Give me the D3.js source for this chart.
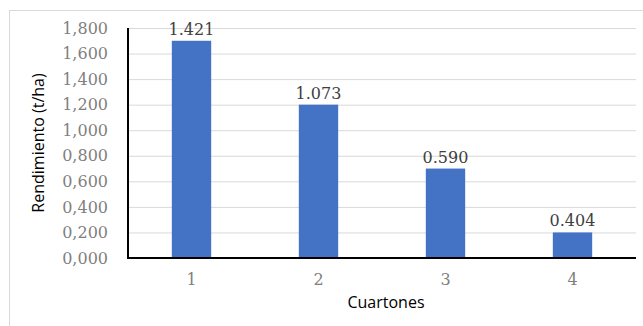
<!DOCTYPE html>
<html>
<head>
<meta charset="utf-8">
<script src="https://cdn.jsdelivr.net/npm/d3@7"></script>
<style>
  html, body { margin: 0; padding: 0; background: #fff; }
  svg { display: block; }
</style>
</head>
<body>
<script>
// Data
const categories = ["1", "2", "3", "4"];
const barValues = [1.7, 1.2, 0.7, 0.2];          // bar heights as drawn
const dataLabels = ["1.421", "1.073", "0.590", "0.404"]; // labels printed above bars
const yTicks = [0, 0.2, 0.4, 0.6, 0.8, 1.0, 1.2, 1.4, 1.6, 1.8];
const xTitle = "Cuartones";
const yTitle = "Rendimiento (t/ha)";

const W = 643, H = 326;
const plot = { left: 128, right: 636, top: 28, bottom: 258 };

const svg = d3.select("body").append("svg")
  .attr("width", W).attr("height", H);

// outer chart border
svg.append("rect")
  .attr("x", 9.5).attr("y", 10.5)
  .attr("width", W + 10).attr("height", H + 10)
  .attr("fill", "#fff").attr("stroke", "#d9d9d9").attr("stroke-width", 1);

const x = d3.scaleBand().domain(categories)
  .range([plot.left, plot.right])
  .paddingInner(0.69).paddingOuter(0.345);

const y = d3.scaleLinear().domain([0, 1.8]).range([plot.bottom, plot.top]);

const fmt = v => d3.format(".3f")(v).replace(".", ",").replace(/^(\d),/, "$1,");
const tickFmt = v => {
  const s = d3.format(".3f")(v);       // e.g. 1.800
  return s.replace(".", ",");          // 1,800
};

// gridlines
const yAxisGrid = d3.axisLeft(y).tickValues(yTicks)
  .tickSize(-(plot.right - plot.left)).tickFormat("");
svg.append("g")
  .attr("transform", `translate(${plot.left},0)`)
  .call(yAxisGrid)
  .call(g => g.select(".domain").remove())
  .call(g => g.selectAll("line").attr("stroke", "#d9d9d9").attr("stroke-width", 1));

// y tick labels
const yAxis = d3.axisLeft(y).tickValues(yTicks).tickSize(0).tickPadding(20)
  .tickFormat(tickFmt);
svg.append("g")
  .attr("transform", `translate(${plot.left},0)`)
  .call(yAxis)
  .call(g => g.select(".domain").remove())
  .call(g => g.selectAll("text")
    .attr("font-family", "DejaVu Serif")
    .attr("font-size", 16)
    .attr("fill", "#7f7f7f"));

// bars
svg.append("g").selectAll("rect").data(barValues).join("rect")
  .attr("x", (d, i) => x(categories[i]))
  .attr("y", d => y(d))
  .attr("width", x.bandwidth())
  .attr("height", d => y(0) - y(d))
  .attr("fill", "#4472c4");

// data labels
svg.append("g").selectAll("text").data(barValues).join("text")
  .attr("x", (d, i) => x(categories[i]) + x.bandwidth() / 2)
  .attr("y", d => y(d) - 6)
  .attr("text-anchor", "middle")
  .attr("font-family", "DejaVu Serif")
  .attr("font-size", 16)
  .attr("fill", "#404040")
  .text((d, i) => dataLabels[i]);

// x axis
const xAxis = d3.axisBottom(x).tickSize(0).tickPadding(16);
svg.append("g")
  .attr("transform", `translate(0,${plot.bottom})`)
  .call(xAxis)
  .call(g => g.select(".domain").attr("stroke", "#000").attr("stroke-width", 2)
    .attr("d", `M${plot.left},0H${plot.right}`))
  .call(g => g.selectAll("text")
    .attr("font-family", "DejaVu Serif")
    .attr("font-size", 16)
    .attr("fill", "#7f7f7f"));

// y axis line
svg.append("line")
  .attr("x1", plot.left).attr("x2", plot.left)
  .attr("y1", plot.top).attr("y2", plot.bottom + 1)
  .attr("stroke", "#000").attr("stroke-width", 2);

// axis titles
svg.append("text")
  .attr("x", (plot.left + plot.right) / 2 + 4)
  .attr("y", 308)
  .attr("text-anchor", "middle")
  .attr("font-family", "Open Sans")
  .attr("font-size", 16)
  .attr("fill", "#000")
  .text(xTitle);

svg.append("text")
  .attr("transform", `translate(44,${(plot.top + plot.bottom) / 2}) rotate(-90)`)
  .attr("text-anchor", "middle")
  .attr("font-family", "Open Sans")
  .attr("font-size", 16)
  .attr("fill", "#000")
  .text(yTitle);
</script>
</body>
</html>
